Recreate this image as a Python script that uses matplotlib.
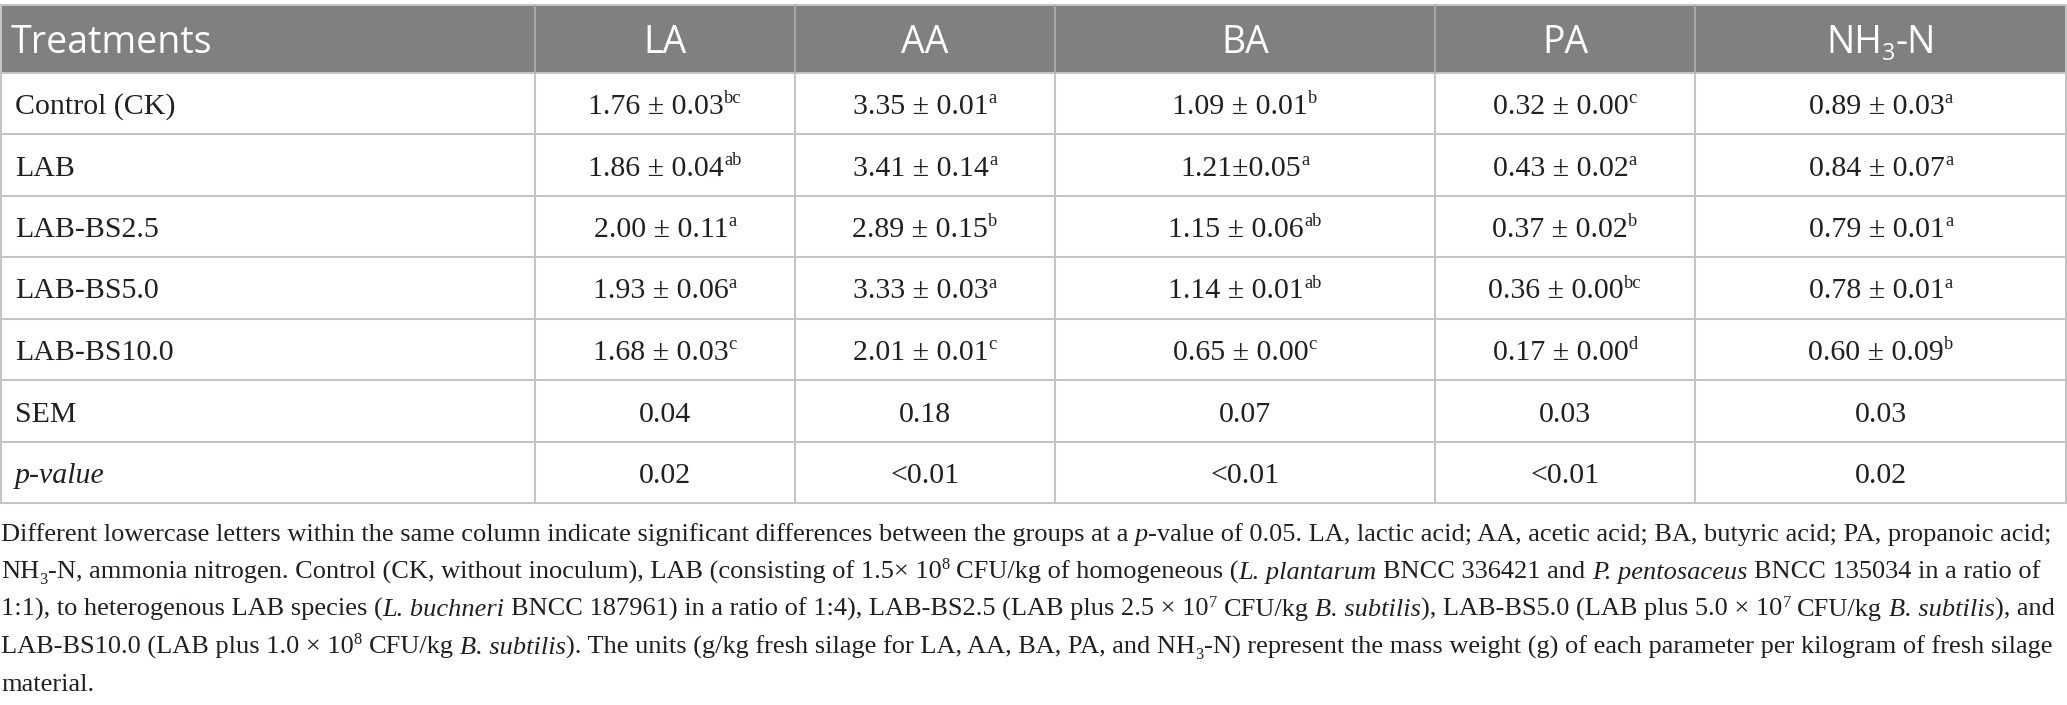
import matplotlib
matplotlib.use("Agg")
import matplotlib.pyplot as plt
from matplotlib.patches import Rectangle

# table content
columns = ["LA", "AA", "BA", "PA", "NH3-N"]
treatments = ["Control (CK)", "LAB", "LAB-BS2.5", "LAB-BS5.0", "LAB-BS10.0"]
la_vals = ["1.76 ± 0.03", "1.86 ± 0.04", "2.00 ± 0.11", "1.93 ± 0.06", "1.68 ± 0.03"]
la_sig = ["bc", "ab", "a", "a", "c"]
aa_vals = ["3.35 ± 0.01", "3.41 ± 0.14", "2.89 ± 0.15", "3.33 ± 0.03", "2.01 ± 0.01"]
aa_sig = ["a", "a", "b", "a", "c"]
ba_vals = ["1.09 ± 0.01", "1.21±0.05", "1.15 ± 0.06", "1.14 ± 0.01", "0.65 ± 0.00"]
ba_sig = ["b", "a", "ab", "ab", "c"]
pa_vals = ["0.32 ± 0.00", "0.43 ± 0.02", "0.37 ± 0.02", "0.36 ± 0.00", "0.17 ± 0.00"]
pa_sig = ["c", "a", "b", "bc", "d"]
nh3_vals = ["0.89 ± 0.03", "0.84 ± 0.07", "0.79 ± 0.01", "0.78 ± 0.01", "0.60 ± 0.09"]
nh3_sig = ["a", "a", "a", "a", "b"]
sem = ["0.04", "0.18", "0.07", "0.03", "0.03"]
p_values = ["0.02", "<0.01", "<0.01", "<0.01", "0.02"]

# footnote, one list of (text, kind) runs per printed line
note_lines = [
    [("Different lowercase letters within the same column indicate significant differences between the groups at a ", ""),
     ("p", "i"), ("-value of 0.05. LA, lactic acid; AA, acetic acid; BA, butyric acid; PA, propanoic acid;", "")],
    [("NH", ""), ("3", "sub"), ("-N, ammonia nitrogen. Control (CK, without inoculum), LAB (consisting of 1.5× 10", ""),
     ("8", "sup"), (" CFU/kg of homogeneous (", ""), ("L. plantarum", "i"), (" BNCC 336421 and ", ""),
     ("P. pentosaceus", "i"), (" BNCC 135034 in a ratio of", "")],
    [("1:1), to heterogenous LAB species (", ""), ("L. buchneri", "i"),
     (" BNCC 187961) in a ratio of 1:4), LAB-BS2.5 (LAB plus 2.5 × 10", ""), ("7", "sup"), (" CFU/kg ", ""),
     ("B. subtilis", "i"), ("), LAB-BS5.0 (LAB plus 5.0 × 10", ""), ("7", "sup"), (" CFU/kg ", ""),
     ("B. subtilis", "i"), ("), and", "")],
    [("LAB-BS10.0 (LAB plus 1.0 × 10", ""), ("8", "sup"), (" CFU/kg ", ""), ("B. subtilis", "i"),
     ("). The units (g/kg fresh silage for LA, AA, BA, PA, and NH", ""), ("3", "sub"),
     ("-N) represent the mass weight (g) of each parameter per kilogram of fresh silage", "")],
    [("material.", "")],
]

W, H = 2067, 705
col_edges = [0, 535, 795, 1055, 1435, 1695, 2067]
row_edges = [4.5, 72.5, 134, 195.7, 257, 318.5, 380, 441.5, 502.5]
note_baselines = [541, 578.5, 616, 653.5, 691]

SERIF = "Liberation Serif"
SANS = "Open Sans"
INK = "#231f20"

fig = plt.figure(figsize=(W / 100, H / 100), dpi=100)
ax = fig.add_axes([0, 0, 1, 1])
ax.set_xlim(0, W)
ax.set_ylim(H, 0)
ax.axis("off")
renderer = fig.canvas.get_renderer()

_space = {}


def ink_width(txt, size, family, style):
    t = ax.text(0, 0, txt, fontsize=size, family=family, style=style)
    w = t.get_window_extent(renderer).width
    t.remove()
    return w


def space_width(size, family, style):
    key = (size, family, style)
    if key not in _space:
        _space[key] = ink_width("x x", size, family, style) - ink_width("xx", size, family, style)
    return _space[key]


def layout(runs, size, family):
    px = size * 100 / 72
    pieces = []
    for txt, kind in runs:
        s = size * 0.62 if kind in ("sup", "sub") else size
        style = "italic" if kind == "i" else "normal"
        dy = {"sup": -0.36 * px, "sub": 0.2 * px}.get(kind, 0.0)
        sp = space_width(s, family, style)
        core = txt.strip(" ")
        lead = (len(txt) - len(txt.lstrip(" "))) * sp
        trail = (len(txt) - len(txt.rstrip(" "))) * sp
        w = ink_width(core, s, family, style) if core else 0.0
        pieces.append((core, s, style, dy, lead, w, trail))
    total = sum(p[4] + p[5] + p[6] for p in pieces)
    return pieces, total


def put_runs(x, y, runs, size, family, color, ha="left"):
    pieces, total = layout(runs, size, family)
    x0 = x - total / 2 if ha == "center" else x
    for core, s, style, dy, lead, w, trail in pieces:
        x0 += lead
        if core:
            ax.text(x0, y + dy, core, fontsize=s, family=family, style=style,
                    color=color, va="baseline", ha="left")
        x0 += w + trail


# header band
ax.add_patch(Rectangle((0, row_edges[0]), W, row_edges[1] - row_edges[0],
                       facecolor="#808080", edgecolor="none", zorder=0))

# grid
lw = 1.45
ax.hlines(row_edges, 0, W, colors="#c4c4c4", linewidth=lw, zorder=1)
for xe in col_edges[1:-1]:
    ax.vlines(xe, row_edges[0], row_edges[1], colors="#a8a8a8", linewidth=lw, zorder=1)
    ax.vlines(xe, row_edges[1], row_edges[-1], colors="#c4c4c4", linewidth=lw, zorder=1)
ax.vlines([1, W - 1], row_edges[0], row_edges[-1], colors="#c4c4c4", linewidth=lw, zorder=1)

# header text
head_size = 27
head_base = 53
put_runs(11, head_base, [("Treatments", "")], head_size, SANS, "white")
centers = [(col_edges[i] + col_edges[i + 1]) / 2 for i in range(1, len(col_edges) - 1)]
for cx, name in zip(centers, columns):
    if name == "NH3-N":
        runs = [("NH", ""), ("3", "sub"), ("-N", "")]
    else:
        runs = [(name, "")]
    put_runs(cx, head_base, runs, head_size, SANS, "white", ha="center")

# body
body_size = 21.5
body_px = body_size * 100 / 72
value_cols = [(la_vals, la_sig), (aa_vals, aa_sig), (ba_vals, ba_sig), (pa_vals, pa_sig), (nh3_vals, nh3_sig)]
for r, name in enumerate(treatments):
    base = (row_edges[r + 1] + row_edges[r + 2]) / 2 + 0.36 * body_px
    put_runs(15, base, [(name, "")], body_size, SERIF, INK)
    for cx, (vals, sig) in zip(centers, value_cols):
        put_runs(cx, base, [(vals[r], ""), (sig[r], "sup")], body_size, SERIF, INK, ha="center")

for k, (label, kind, vals) in enumerate([("SEM", "", sem), ("p-value", "i", p_values)]):
    r = len(treatments) + k
    base = (row_edges[r + 1] + row_edges[r + 2]) / 2 + 0.36 * body_px
    put_runs(15, base, [(label, kind)], body_size, SERIF, INK)
    for cx, v in zip(centers, vals):
        put_runs(cx, base, [(v, "")], body_size, SERIF, INK, ha="center")

# footnote, sized so the first line spans the width
note_size = 18.5
_, w0 = layout(note_lines[0], note_size, SERIF)
note_size = note_size * 2056 / w0
for base, runs in zip(note_baselines, note_lines):
    put_runs(1, base, runs, note_size, SERIF, INK)

fig.savefig("out.png", dpi=100, facecolor="white")
